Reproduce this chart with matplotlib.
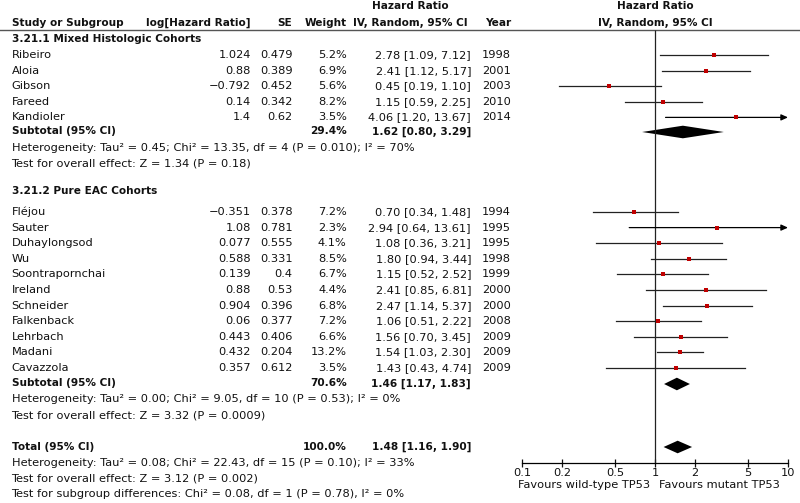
import matplotlib.pyplot as plt
from matplotlib.ticker import FixedLocator, FixedFormatter, NullLocator

plt.rcParams['font.family'] = ['DejaVu Sans']
FS = 8.2      # regular text
FS_B = 7.6    # bold text

# ---- data -------------------------------------------------------------
g1_names = ["Ribeiro", "Aloia", "Gibson", "Fareed", "Kandioler"]
g1_loghr = [1.024, 0.88, -0.792, 0.14, 1.4]
g1_se = [0.479, 0.389, 0.452, 0.342, 0.62]
g1_weight = [5.2, 6.9, 5.6, 8.2, 3.5]
g1_hr = [2.78, 2.41, 0.45, 1.15, 4.06]
g1_lo = [1.09, 1.12, 0.19, 0.59, 1.20]
g1_hi = [7.12, 5.17, 1.10, 2.25, 13.67]
g1_year = [1998, 2001, 2003, 2010, 2014]

g2_names = ["Fléjou", "Sauter", "Duhaylongsod", "Wu", "Soontrapornchai", "Ireland",
            "Schneider", "Falkenback", "Lehrbach", "Madani", "Cavazzola"]
g2_loghr = [-0.351, 1.08, 0.077, 0.588, 0.139, 0.88, 0.904, 0.06, 0.443, 0.432, 0.357]
g2_se = [0.378, 0.781, 0.555, 0.331, 0.4, 0.53, 0.396, 0.377, 0.406, 0.204, 0.612]
g2_weight = [7.2, 2.3, 4.1, 8.5, 6.7, 4.4, 6.8, 7.2, 6.6, 13.2, 3.5]
g2_hr = [0.70, 2.94, 1.08, 1.80, 1.15, 2.41, 2.47, 1.06, 1.56, 1.54, 1.43]
g2_lo = [0.34, 0.64, 0.36, 0.94, 0.52, 0.85, 1.14, 0.51, 0.70, 1.03, 0.43]
g2_hi = [1.48, 13.61, 3.21, 3.44, 2.52, 6.81, 5.37, 2.22, 3.45, 2.30, 4.74]
g2_year = [1994, 1995, 1995, 1998, 1999, 2000, 2000, 2008, 2009, 2009, 2009]

sub_weight = [29.4, 70.6]
sub_hr = [1.62, 1.46]
sub_lo = [0.80, 1.17]
sub_hi = [3.29, 1.83]
tot_weight = 100.0
tot_hr, tot_lo, tot_hi = 1.48, 1.16, 1.90

g1_title = "3.21.1 Mixed Histologic Cohorts"
g2_title = "3.21.2 Pure EAC Cohorts"
g1_het = "Heterogeneity: Tau² = 0.45; Chi² = 13.35, df = 4 (P = 0.010); I² = 70%"
g1_test = "Test for overall effect: Z = 1.34 (P = 0.18)"
g2_het = "Heterogeneity: Tau² = 0.00; Chi² = 9.05, df = 10 (P = 0.53); I² = 0%"
g2_test = "Test for overall effect: Z = 3.32 (P = 0.0009)"
tot_het = "Heterogeneity: Tau² = 0.08; Chi² = 22.43, df = 15 (P = 0.10); I² = 33%"
tot_test = "Test for overall effect: Z = 3.12 (P = 0.002)"
sub_test = "Test for subgroup differences: Chi² = 0.08, df = 1 (P = 0.78), I² = 0%"

ticks = [0.1, 0.2, 0.5, 1, 2, 5, 10]
tick_labels = ["0.1", "0.2", "0.5", "1", "2", "5", "10"]

# ---- layout (pixel rows) ------------------------------------------------
W, H = 800, 503
STEP = 15.6
g1_y = [55 + i * STEP for i in range(len(g1_names))]
g2_y = [212 + i * STEP for i in range(len(g2_names))]
sub_y = [131.5, 383.5]
tot_y = 447

X_NAME, X_LOG, X_SE, X_W, X_HR, X_YEAR = 11.5, 251, 292.5, 346.7, 471, 511
X_AX0, X_AX1 = 522, 788
AXIS_Y = 462.5

fig = plt.figure(figsize=(W / 100, H / 100), dpi=100)
bg = fig.add_axes([0, 0, 1, 1])
bg.set_xlim(0, W)
bg.set_ylim(H, 0)
bg.axis('off')


def txt(x, y, s, ha='left', bold=False):
    bg.text(x, y, s, ha=ha, va='center', fontsize=FS_B if bold else FS,
            fontweight='bold' if bold else 'normal', color='#111111')


def fmt_num(v):
    return str(v).replace('-', '\u2212')


# headers
txt(410, 6, "Hazard Ratio", ha='center', bold=True)
txt(655, 6, "Hazard Ratio", ha='center', bold=True)
txt(X_NAME, 22.5, "Study or Subgroup", bold=True)
txt(X_LOG, 22.5, "log[Hazard Ratio]", ha='right', bold=True)
txt(X_SE, 22.5, "SE", ha='right', bold=True)
txt(X_W, 22.5, "Weight", ha='right', bold=True)
txt(410, 22.5, "IV, Random, 95% CI", ha='center', bold=True)
txt(X_YEAR, 22.5, "Year", ha='right', bold=True)
txt(655, 22.5, "IV, Random, 95% CI", ha='center', bold=True)
bg.plot([0, W], [29.5, 29.5], color='#555555', lw=1.0)

# forest axes
ax = fig.add_axes([X_AX0 / W, 0, (X_AX1 - X_AX0) / W, 1])
ax.set_xscale('log')
ax.set_xlim(0.1, 10)
ax.set_ylim(H, 0)
ax.patch.set_visible(False)
for s in ['top', 'left', 'right']:
    ax.spines[s].set_visible(False)
ax.spines['bottom'].set_position(('data', AXIS_Y))
ax.spines['bottom'].set_linewidth(0.9)
ax.yaxis.set_visible(False)
ax.xaxis.set_major_locator(FixedLocator(ticks))
ax.xaxis.set_major_formatter(FixedFormatter(tick_labels))
ax.xaxis.set_minor_locator(NullLocator())
ax.tick_params(axis='x', direction='inout', length=6, width=0.9, pad=1,
               labelsize=FS, colors='#111111')
ax.vlines(1, 29.5, AXIS_Y, color='#222222', lw=0.9)

SQ = '#c00000'


def study_rows(names, loghr, se, weight, hr, lo, hi, year, ys):
    for i, y in enumerate(ys):
        txt(X_NAME, y, names[i])
        txt(X_LOG, y, fmt_num(loghr[i]), ha='right')
        txt(X_SE, y, fmt_num(se[i]), ha='right')
        txt(X_W, y, f"{weight[i]:.1f}%", ha='right')
        txt(X_HR, y, f"{hr[i]:.2f} [{lo[i]:.2f}, {hi[i]:.2f}]", ha='right')
        txt(X_YEAR, y, str(year[i]), ha='right')
        if hi[i] > 10:
            ax.annotate('', xy=(10, y), xytext=(lo[i], y),
                        arrowprops=dict(arrowstyle='-|>,head_length=0.4,head_width=0.18',
                                        color='black', lw=0.9, shrinkA=0, shrinkB=0))
        else:
            ax.plot([lo[i], hi[i]], [y, y], color='#222222', lw=0.9)
        side_px = 2.4 + 1.8 * (weight[i] / 13.2) ** 0.5
        ax.scatter([hr[i]], [y], marker='s', s=(side_px * 0.72) ** 2, color=SQ,
                   linewidths=0, zorder=3)


def diamond(est, lo, hi, y, h=6.3):
    ax.fill([lo, est, hi, est], [y, y - h, y, y + h], color='black', lw=0)


txt(X_NAME, 38.5, g1_title, bold=True)
study_rows(g1_names, g1_loghr, g1_se, g1_weight, g1_hr, g1_lo, g1_hi, g1_year, g1_y)
txt(X_NAME, sub_y[0], "Subtotal (95% CI)", bold=True)
txt(X_W, sub_y[0], f"{sub_weight[0]:.1f}%", ha='right', bold=True)
txt(X_HR, sub_y[0], f"{sub_hr[0]:.2f} [{sub_lo[0]:.2f}, {sub_hi[0]:.2f}]", ha='right', bold=True)
diamond(sub_hr[0], sub_lo[0], sub_hi[0], sub_y[0] + 0.5)
txt(X_NAME, 148, g1_het)
txt(X_NAME, 163.5, g1_test)

txt(X_NAME, 191, g2_title, bold=True)
study_rows(g2_names, g2_loghr, g2_se, g2_weight, g2_hr, g2_lo, g2_hi, g2_year, g2_y)
txt(X_NAME, sub_y[1], "Subtotal (95% CI)", bold=True)
txt(X_W, sub_y[1], f"{sub_weight[1]:.1f}%", ha='right', bold=True)
txt(X_HR, sub_y[1], f"{sub_hr[1]:.2f} [{sub_lo[1]:.2f}, {sub_hi[1]:.2f}]", ha='right', bold=True)
diamond(sub_hr[1], sub_lo[1], sub_hi[1], sub_y[1] + 0.5)
txt(X_NAME, 399.5, g2_het)
txt(X_NAME, 415, g2_test)

txt(X_NAME, tot_y, "Total (95% CI)", bold=True)
txt(X_W, tot_y, f"{tot_weight:.1f}%", ha='right', bold=True)
txt(X_HR, tot_y, f"{tot_hr:.2f} [{tot_lo:.2f}, {tot_hi:.2f}]", ha='right', bold=True)
diamond(tot_hr, tot_lo, tot_hi, tot_y)
txt(X_NAME, 463, tot_het)
txt(X_NAME, 478.5, tot_test)
txt(X_NAME, 494, sub_test)

txt(650, 485.5, "Favours wild-type TP53", ha='right')
txt(659, 485.5, "Favours mutant TP53")

fig.savefig('out.png', dpi=100)
